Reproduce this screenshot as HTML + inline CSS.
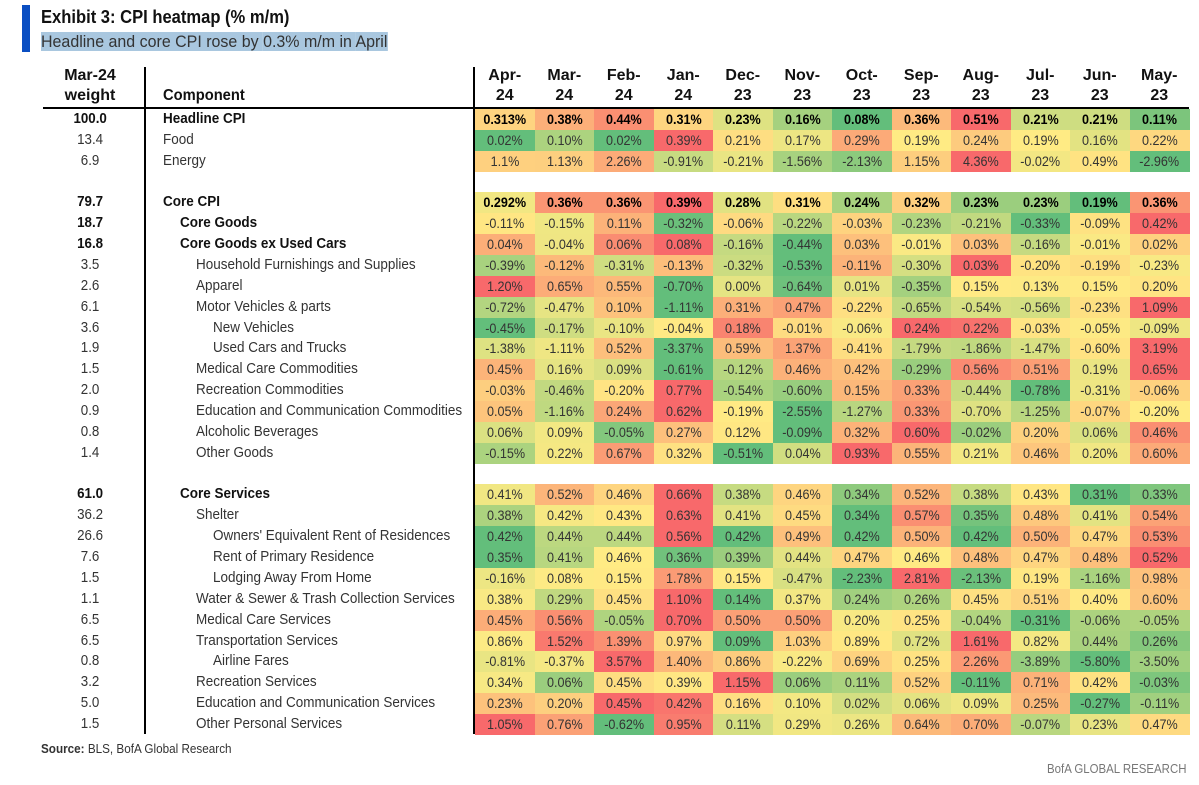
<!DOCTYPE html>
<html><head><meta charset="utf-8"><style>
body{margin:0;width:1199px;height:785px;background:#fff;position:relative;overflow:hidden;font-family:"Liberation Sans",sans-serif;color:#111}
.a{position:absolute;white-space:nowrap}
.hl{background:#a9c7df}
.cell{position:absolute;height:21px;line-height:21px;text-align:center;font-size:14px;overflow:hidden}
.cell span{display:inline-block;transform:scaleX(0.9)}
.lbl{position:absolute;height:21px;line-height:21px;font-size:14.5px;transform:scaleX(0.93);transform-origin:0 50%}
.wl{position:absolute;height:21px;line-height:21px;font-size:14.5px;text-align:center}
.wl span{display:inline-block;transform:scaleX(0.92)}
</style></head><body>
<div class="a" style="left:22px;top:5px;width:8px;height:47px;background:#0a4ec2"></div>
<div class="a" style="left:41px;top:7px;font-size:18px;font-weight:bold;transform:scaleX(0.92);transform-origin:0 0">Exhibit 3: CPI heatmap (% m/m)</div>
<div class="a" style="left:41px;top:32px;font-size:17px;color:#333;transform:scaleX(0.94);transform-origin:0 0"><span class="hl">Headline and core CPI rose by </span><span class="hl">0.3%</span><span class="hl"> m/m in </span><span class="hl">April</span></div>
<div class="a" style="left:50px;top:66px;width:80px;text-align:center;font-size:16px;font-weight:bold;line-height:20px">Mar-24<br>weight</div>
<div class="a" style="left:163px;top:87px;font-size:16px;font-weight:bold;transform:scaleX(0.92);transform-origin:0 0">Component</div>
<div class="a" style="left:43px;top:107px;width:1146px;height:2px;background:#000"></div>
<div class="a" style="left:144px;top:67px;width:2px;height:667px;background:#000"></div>
<div class="a" style="left:473px;top:67px;width:2px;height:667px;background:#000"></div>
<div id="grid"></div>
<div class="a" style="left:41px;top:741px;font-size:13px;color:#333;transform:scaleX(0.9);transform-origin:0 0"><b>Source:</b> BLS, BofA Global Research</div>
<div class="a" style="right:13px;top:761px;font-size:13px;color:#777;transform:scaleX(0.88);transform-origin:100% 0">BofA GLOBAL RESEARCH</div>
<script>
const months=["Apr-|24","Mar-|24","Feb-|24","Jan-|24","Dec-|23","Nov-|23","Oct-|23","Sep-|23","Aug-|23","Jul-|23","Jun-|23","May-|23"];
const slots=[0,1,2,4,5,6,7,8,9,10,11,12,13,14,15,16,18,19,20,21,22,23,24,25,26,27,28,29];
const weights=[100.0,13.4,6.9,79.7,18.7,16.8,3.5,2.6,6.1,3.6,1.9,1.5,2.0,0.9,0.8,1.4,61.0,36.2,26.6,7.6,1.5,1.1,6.5,6.5,0.8,3.2,5.0,1.5];
const components=["Headline CPI","Food","Energy","Core CPI","Core Goods","Core Goods ex Used Cars","Household Furnishings and Supplies","Apparel","Motor Vehicles & parts","New Vehicles","Used Cars and Trucks","Medical Care Commodities","Recreation Commodities","Education and Communication Commodities","Alcoholic Beverages","Other Goods","Core Services","Shelter","Owners' Equivalent Rent of Residences","Rent of Primary Residence","Lodging Away From Home","Water & Sewer & Trash Collection Services","Medical Care Services","Transportation Services","Airline Fares","Recreation Services","Education and Communication Services","Other Personal Services"];
const levels=[0,0,0,0,1,1,2,2,2,3,3,2,2,2,2,2,1,2,3,3,3,2,2,2,3,2,2,2];
const boldRows=[1,0,0,1,1,1,0,0,0,0,0,0,0,0,0,0,1,0,0,0,0,0,0,0,0,0,0,0];
const boldCells=[1,0,0,1,0,0,0,0,0,0,0,0,0,0,0,0,0,0,0,0,0,0,0,0,0,0,0,0];
const aprDecimals=[3,2,1,3,2,2,2,2,2,2,2,2,2,2,2,2,2,2,2,2,2,2,2,2,2,2,2,2];
const values=[
[0.313,0.38,0.44,0.31,0.23,0.16,0.08,0.36,0.51,0.21,0.21,0.11],
[0.02,0.10,0.02,0.39,0.21,0.17,0.29,0.19,0.24,0.19,0.16,0.22],
[1.1,1.13,2.26,-0.91,-0.21,-1.56,-2.13,1.15,4.36,-0.02,0.49,-2.96],
[0.292,0.36,0.36,0.39,0.28,0.31,0.24,0.32,0.23,0.23,0.19,0.36],
[-0.11,-0.15,0.11,-0.32,-0.06,-0.22,-0.03,-0.23,-0.21,-0.33,-0.09,0.42],
[0.04,-0.04,0.06,0.08,-0.16,-0.44,0.03,-0.01,0.03,-0.16,-0.01,0.02],
[-0.39,-0.12,-0.31,-0.13,-0.32,-0.53,-0.11,-0.30,0.03,-0.20,-0.19,-0.23],
[1.20,0.65,0.55,-0.70,0.00,-0.64,0.01,-0.35,0.15,0.13,0.15,0.20],
[-0.72,-0.47,0.10,-1.11,0.31,0.47,-0.22,-0.65,-0.54,-0.56,-0.23,1.09],
[-0.45,-0.17,-0.10,-0.04,0.18,-0.01,-0.06,0.24,0.22,-0.03,-0.05,-0.09],
[-1.38,-1.11,0.52,-3.37,0.59,1.37,-0.41,-1.79,-1.86,-1.47,-0.60,3.19],
[0.45,0.16,0.09,-0.61,-0.12,0.46,0.42,-0.29,0.56,0.51,0.19,0.65],
[-0.03,-0.46,-0.20,0.77,-0.54,-0.60,0.15,0.33,-0.44,-0.78,-0.31,-0.06],
[0.05,-1.16,0.24,0.62,-0.19,-2.55,-1.27,0.33,-0.70,-1.25,-0.07,-0.20],
[0.06,0.09,-0.05,0.27,0.12,-0.09,0.32,0.60,-0.02,0.20,0.06,0.46],
[-0.15,0.22,0.67,0.32,-0.51,0.04,0.93,0.55,0.21,0.46,0.20,0.60],
[0.41,0.52,0.46,0.66,0.38,0.46,0.34,0.52,0.38,0.43,0.31,0.33],
[0.38,0.42,0.43,0.63,0.41,0.45,0.34,0.57,0.35,0.48,0.41,0.54],
[0.42,0.44,0.44,0.56,0.42,0.49,0.42,0.50,0.42,0.50,0.47,0.53],
[0.35,0.41,0.46,0.36,0.39,0.44,0.47,0.46,0.48,0.47,0.48,0.52],
[-0.16,0.08,0.15,1.78,0.15,-0.47,-2.23,2.81,-2.13,0.19,-1.16,0.98],
[0.38,0.29,0.45,1.10,0.14,0.37,0.24,0.26,0.45,0.51,0.40,0.60],
[0.45,0.56,-0.05,0.70,0.50,0.50,0.20,0.25,-0.04,-0.31,-0.06,-0.05],
[0.86,1.52,1.39,0.97,0.09,1.03,0.89,0.72,1.61,0.82,0.44,0.26],
[-0.81,-0.37,3.57,1.40,0.86,-0.22,0.69,0.25,2.26,-3.89,-5.80,-3.50],
[0.34,0.06,0.45,0.39,1.15,0.06,0.11,0.52,-0.11,0.71,0.42,-0.03],
[0.23,0.20,0.45,0.42,0.16,0.10,0.02,0.06,0.09,0.25,-0.27,-0.11],
[1.05,0.76,-0.62,0.95,0.11,0.29,0.26,0.64,0.70,-0.07,0.23,0.47]
];
const G=[99,190,123],Y=[255,235,132],R=[248,105,107];
function mix(a,b,t){return 'rgb('+a.map((v,i)=>Math.round(v+(b[i]-v)*t)).join(',')+')';}
function color(v,row){const s=[...row].sort((a,b)=>a-b);const mn=s[0],mx=s[s.length-1],md=(s[5]+s[6])/2;
 if(v<=md){return mix(G,Y,md===mn?1:(v-mn)/(md-mn));} return mix(Y,R,mx===md?0:(v-md)/(mx-md));}
const X0=475,CW=59.5,Y0=109,RH=20.86;
function colX(i){return X0+i*CW;}
function rowY(s){return Y0+s*RH;}
const g=document.getElementById('grid');
months.forEach((m,i)=>{const d=document.createElement('div');d.className='a';


d.style.cssText=`left:${colX(i)}px;top:66px;width:${CW}px;text-align:center;font-size:16px;font-weight:bold;line-height:20px`;
d.innerHTML=m.split('|').join('<br>');g.appendChild(d);});
values.forEach((row,r)=>{const y=rowY(slots[r]);const b=boldRows[r]?'bold':'normal';
 const w=document.createElement('div');w.className='wl';
 
 
 w.style.cssText=`left:50px;top:${y}px;width:80px;font-weight:${b};color:${boldRows[r]?'#111':'#333'}`;
 const ws=document.createElement('span');ws.textContent=weights[r].toFixed(1);w.appendChild(ws);g.appendChild(w);
 const c=document.createElement('div');c.className='lbl';
 
 
 c.style.cssText=`left:${163+[0,17,33,50][levels[r]]}px;top:${y}px;font-weight:${b};color:${boldRows[r]?'#111':'#333'}`;
 c.textContent=components[r];g.appendChild(c);
 const cb=boldCells[r]?'bold':'normal';
 row.forEach((v,i)=>{const d=document.createElement('div');d.className='cell';
 
 
 d.style.cssText=`left:${colX(i)}px;top:${y}px;width:${CW+0.5}px;height:${RH+0.5}px;background:${color(v,row)};font-weight:${cb};color:${boldCells[r]?'#000':'#333'}`;
 const sp=document.createElement('span');
 sp.textContent=v.toFixed(i===0?aprDecimals[r]:2)+'%';d.appendChild(sp);g.appendChild(d);});
});
</script>
</body></html>
